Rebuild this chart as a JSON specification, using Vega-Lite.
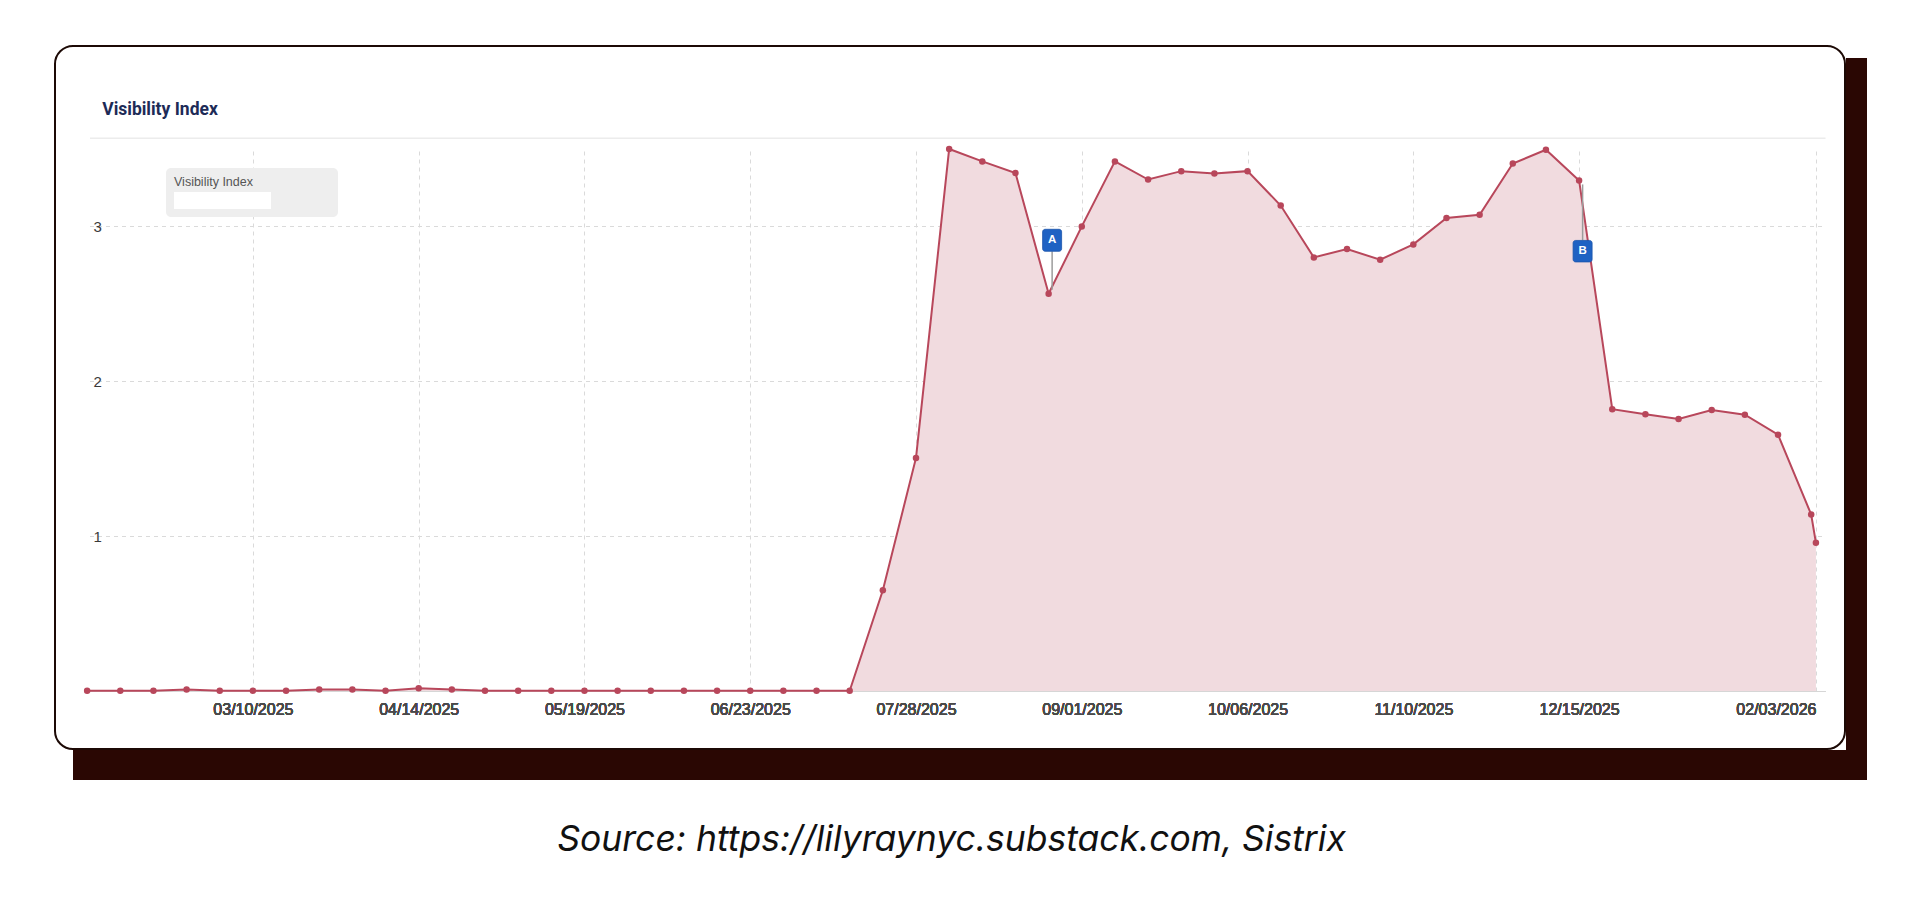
{
  "$schema": "https://vega.github.io/schema/vega-lite/v6.json",
  "background": "white",
  "padding": {"left": 54, "top": 45, "right": 53, "bottom": 40},
  "title": {
    "text": "Source: https://lilyraynyc.substack.com, Sistrix",
    "orient": "bottom",
    "anchor": "middle",
    "frame": "bounds",
    "dx": -9,
    "offset": 43,
    "baseline": "top",
    "font": "Inter",
    "fontStyle": "italic",
    "fontWeight": "normal",
    "fontSize": 35.5,
    "color": "#111111"
  },
  "datasets": {
    "visibility": [
      {"date": "2025-02-03T00:00:00", "value": 0.002, "series": "site"},
      {"date": "2025-02-10T00:00:00", "value": 0.002, "series": "site"},
      {"date": "2025-02-17T00:00:00", "value": 0.002, "series": "site"},
      {"date": "2025-02-24T00:00:00", "value": 0.01, "series": "site"},
      {"date": "2025-03-03T00:00:00", "value": 0.002, "series": "site"},
      {"date": "2025-03-10T00:00:00", "value": 0.002, "series": "site"},
      {"date": "2025-03-17T00:00:00", "value": 0.002, "series": "site"},
      {"date": "2025-03-24T00:00:00", "value": 0.01, "series": "site"},
      {"date": "2025-03-31T00:00:00", "value": 0.01, "series": "site"},
      {"date": "2025-04-07T00:00:00", "value": 0.002, "series": "site"},
      {"date": "2025-04-14T00:00:00", "value": 0.018, "series": "site"},
      {"date": "2025-04-21T00:00:00", "value": 0.01, "series": "site"},
      {"date": "2025-04-28T00:00:00", "value": 0.002, "series": "site"},
      {"date": "2025-05-05T00:00:00", "value": 0.002, "series": "site"},
      {"date": "2025-05-12T00:00:00", "value": 0.002, "series": "site"},
      {"date": "2025-05-19T00:00:00", "value": 0.002, "series": "site"},
      {"date": "2025-05-26T00:00:00", "value": 0.002, "series": "site"},
      {"date": "2025-06-02T00:00:00", "value": 0.002, "series": "site"},
      {"date": "2025-06-09T00:00:00", "value": 0.002, "series": "site"},
      {"date": "2025-06-16T00:00:00", "value": 0.002, "series": "site"},
      {"date": "2025-06-23T00:00:00", "value": 0.002, "series": "site"},
      {"date": "2025-06-30T00:00:00", "value": 0.002, "series": "site"},
      {"date": "2025-07-07T00:00:00", "value": 0.002, "series": "site"},
      {"date": "2025-07-14T00:00:00", "value": 0.002, "series": "site"},
      {"date": "2025-07-21T00:00:00", "value": 0.65, "series": "site"},
      {"date": "2025-07-28T00:00:00", "value": 1.505, "series": "site"},
      {"date": "2025-08-04T00:00:00", "value": 3.5, "series": "site"},
      {"date": "2025-08-11T00:00:00", "value": 3.42, "series": "site"},
      {"date": "2025-08-18T00:00:00", "value": 3.345, "series": "site"},
      {"date": "2025-08-25T00:00:00", "value": 2.565, "series": "site", "flag": "A"},
      {"date": "2025-09-01T00:00:00", "value": 3.0, "series": "site"},
      {"date": "2025-09-08T00:00:00", "value": 3.42, "series": "site"},
      {"date": "2025-09-15T00:00:00", "value": 3.303, "series": "site"},
      {"date": "2025-09-22T00:00:00", "value": 3.357, "series": "site"},
      {"date": "2025-09-29T00:00:00", "value": 3.342, "series": "site"},
      {"date": "2025-10-06T00:00:00", "value": 3.357, "series": "site"},
      {"date": "2025-10-13T00:00:00", "value": 3.135, "series": "site"},
      {"date": "2025-10-20T00:00:00", "value": 2.8, "series": "site"},
      {"date": "2025-10-27T00:00:00", "value": 2.854, "series": "site"},
      {"date": "2025-11-03T00:00:00", "value": 2.785, "series": "site"},
      {"date": "2025-11-10T00:00:00", "value": 2.884, "series": "site"},
      {"date": "2025-11-17T00:00:00", "value": 3.054, "series": "site"},
      {"date": "2025-11-24T00:00:00", "value": 3.075, "series": "site"},
      {"date": "2025-12-01T00:00:00", "value": 3.406, "series": "site"},
      {"date": "2025-12-08T00:00:00", "value": 3.495, "series": "site"},
      {"date": "2025-12-15T00:00:00", "value": 3.297, "series": "site", "flag": "B"},
      {"date": "2025-12-22T00:00:00", "value": 1.82, "series": "site"},
      {"date": "2025-12-29T00:00:00", "value": 1.787, "series": "site"},
      {"date": "2026-01-05T00:00:00", "value": 1.757, "series": "site"},
      {"date": "2026-01-12T00:00:00", "value": 1.815, "series": "site"},
      {"date": "2026-01-19T00:00:00", "value": 1.784, "series": "site"},
      {"date": "2026-01-26T00:00:00", "value": 1.655, "series": "site"},
      {"date": "2026-02-02T00:00:00", "value": 1.14, "series": "site"},
      {"date": "2026-02-03T00:00:00", "value": 0.957, "series": "site"}
    ]
  },
  "columns": 2,
  "spacing": 0,
  "align": "each",
  "concat": [
    {
      "data": {"name": "visibility"},
      "width": 1790,
      "height": 703,
      "view": {"fill": "white", "stroke": "#1c0905", "strokeWidth": 2, "cornerRadius": 18},
      "encoding": {
        "x": {
          "field": "date",
          "type": "temporal",
          "scale": {"domain": [{"year": 2025, "month": 2, "date": 3, "hours": 12}, {"year": 2026, "month": 2, "date": 4, "hours": 22}], "range": [34.5, 1770]},
          "axis": {
            "orient": "bottom",
            "offset": -58,
            "values": [
              {"year": 2025, "month": 3, "date": 10},
              {"year": 2025, "month": 4, "date": 14},
              {"year": 2025, "month": 5, "date": 19},
              {"year": 2025, "month": 6, "date": 23},
              {"year": 2025, "month": 7, "date": 28},
              {"year": 2025, "month": 9, "date": 1},
              {"year": 2025, "month": 10, "date": 6},
              {"year": 2025, "month": 11, "date": 10},
              {"year": 2025, "month": 12, "date": 15},
              {"year": 2026, "month": 2, "date": 3}
            ],
            "format": "%m/%d/%Y",
            "title": null,
            "labelFont": "Liberation Sans",
            "labelFontSize": 16,
            "labelFontWeight": "normal",
            "labelColor": "#4a4a4a",
            "labelPadding": 10,
            "labelOverlap": false,
            "labelBound": false,
            "labelFlush": false,
            "labelAlign": {"condition": {"test": "datum.value > datetime(2026, 0, 1)", "value": "right"}, "value": "center"},
            "ticks": false,
            "domain": true,
            "domainColor": "#d6d6d6",
            "domainWidth": 1,
            "grid": false
          }
        },
        "y": {
          "field": "value",
          "type": "quantitative",
          "scale": {"domain": [0, 3.5], "nice": false, "range": [645, 103]},
          "axis": {
            "offset": -34.5,
            "values": [1, 2, 3],
            "title": null,
            "labelAlign": "left",
            "labelBaseline": "middle",
            "labelPadding": -3.5,
            "tickSize": 0,
            "ticks": false,
            "domain": false,
            "grid": true,
            "gridColor": "#dadada",
            "gridDash": [4, 4],
            "gridWidth": 1,
            "labelFont": "Liberation Sans",
            "labelFontSize": 15,
            "labelFontWeight": "normal",
            "labelColor": "#3a3a3a"
          }
        }
      },
      "layer": [
        {
          "mark": {"type": "area", "color": "#f1dbdf", "opacity": 1},
          "encoding": {
            "x": {
              "field": "date",
              "type": "temporal",
              "scale": {"domain": [{"year": 2025, "month": 2, "date": 3, "hours": 12}, {"year": 2026, "month": 2, "date": 4, "hours": 22}], "range": [34.5, 1770]},
              "axis": {
                "orient": "top",
                "offset": -91.7,
                "values": [
                  {"year": 2025, "month": 3, "date": 10},
                  {"year": 2025, "month": 4, "date": 14},
                  {"year": 2025, "month": 5, "date": 19},
                  {"year": 2025, "month": 6, "date": 23},
                  {"year": 2025, "month": 7, "date": 28},
                  {"year": 2025, "month": 9, "date": 1},
                  {"year": 2025, "month": 10, "date": 6},
                  {"year": 2025, "month": 11, "date": 10},
                  {"year": 2025, "month": 12, "date": 15},
                  {"year": 2026, "month": 2, "date": 3}
                ],
                "labels": false,
                "ticks": false,
                "grid": true,
                "gridColor": "#dadada",
                "gridDash": [4, 4],
                "gridWidth": 1,
                "domain": true,
                "domainColor": "#ececec",
                "domainWidth": 1.5,
                "title": "Visibility Index",
                "titleX": 46.7,
                "titleY": -23,
                "titleAlign": "left",
                "titleAnchor": "start",
                "titleBaseline": "alphabetic",
                "titleFont": "Roboto",
                "titleFontSize": 17.5,
                "titleFontWeight": "bold",
                "titleColor": "#1d2b57"
              }
            }
          }
        },
        {
          "mark": {"type": "line", "strokeWidth": 2},
          "encoding": {
            "color": {
              "field": "series",
              "type": "nominal",
              "scale": {"range": ["#b8475b"]},
              "legend": {
                "title": "Visibility Index",
                "orient": "none",
                "legendX": 111,
                "legendY": 122,
                "fillColor": "#eeeeee",
                "cornerRadius": 5,
                "padding": 8,
                "titleFont": "Liberation Sans",
                "titleFontSize": 12.5,
                "titleFontWeight": "normal",
                "titleColor": "#555555",
                "titlePadding": 6,
                "symbolType": "M-1.2,-1.7H18.2V1.7H-1.2Z",
                "symbolSize": 100,
                "symbolStrokeWidth": 0,
                "labelOpacity": 0,
                "labelOffset": 125,
                "labelFontSize": 12,
                "encode": {"symbols": {"update": {"fill": {"value": "white"}, "stroke": {"value": "white"}, "strokeWidth": {"value": 0}, "opacity": {"value": 1}}}}
              }
            }
          }
        },
        {
          "mark": {"type": "point", "filled": true, "size": 42, "color": "#b8475b", "opacity": 1}
        },
        {
          "transform": [{"filter": "datum.flag === 'A'"}],
          "mark": {"type": "rule", "color": "#9c9c9c", "strokeWidth": 1.5, "xOffset": 3.5, "yOffset": -42.5, "y2Offset": -4},
          "encoding": {"y2": {"field": "value"}}
        },
        {
          "transform": [{"filter": "datum.flag === 'A'"}],
          "mark": {"type": "rect", "color": "#1f62c3", "cornerRadius": 2.5, "stroke": "#1a54ab", "strokeWidth": 0.8, "xOffset": -6, "x2Offset": 13, "yOffset": -64.5, "y2Offset": -42.5},
          "encoding": {"x2": {"field": "date"}, "y2": {"field": "value"}}
        },
        {
          "transform": [{"filter": "datum.flag === 'A'"}],
          "mark": {"type": "text", "color": "white", "font": "Liberation Sans", "fontWeight": "bold", "fontSize": 11.5, "xOffset": 3.5, "yOffset": -53.5, "baseline": "middle", "align": "center"},
          "encoding": {"text": {"field": "flag"}}
        },
        {
          "transform": [{"filter": "datum.flag === 'B'"}],
          "mark": {"type": "rule", "color": "#9c9c9c", "strokeWidth": 1.5, "xOffset": 3.5, "yOffset": 4, "y2Offset": 60},
          "encoding": {"y2": {"field": "value"}}
        },
        {
          "transform": [{"filter": "datum.flag === 'B'"}],
          "mark": {"type": "rect", "color": "#1f62c3", "cornerRadius": 2.5, "stroke": "#1a54ab", "strokeWidth": 0.8, "xOffset": -6, "x2Offset": 13, "yOffset": 60, "y2Offset": 81.5},
          "encoding": {"x2": {"field": "date"}, "y2": {"field": "value"}}
        },
        {
          "transform": [{"filter": "datum.flag === 'B'"}],
          "mark": {"type": "text", "color": "white", "font": "Liberation Sans", "fontWeight": "bold", "fontSize": 11.5, "xOffset": 3.5, "yOffset": 70.8, "baseline": "middle", "align": "center"},
          "encoding": {"text": {"field": "flag"}}
        }
      ]
    },
    {
      "data": {"values": []},
      "width": 21,
      "height": 704,
      "view": {
        "stroke": null,
        "fill": {"gradient": "linear", "x1": 0, "y1": 0, "x2": 0, "y2": 1, "stops": [
          {"offset": 0, "color": "#ffffff"},
          {"offset": 0.0170, "color": "#ffffff"},
          {"offset": 0.0171, "color": "#2a0703"},
          {"offset": 1, "color": "#2a0703"}
        ]}
      },
      "mark": "point",
      "encoding": {}
    },
    {
      "data": {"values": []},
      "width": 1791,
      "height": 30,
      "view": {
        "stroke": null,
        "fill": {"gradient": "linear", "x1": 0, "y1": 0, "x2": 1, "y2": 0, "stops": [
          {"offset": 0, "color": "#ffffff"},
          {"offset": 0.0101, "color": "#ffffff"},
          {"offset": 0.0102, "color": "#2a0703"},
          {"offset": 1, "color": "#2a0703"}
        ]}
      },
      "mark": "point",
      "encoding": {}
    },
    {
      "data": {"values": []},
      "width": 21,
      "height": 30,
      "view": {"stroke": null, "fill": "#2a0703", "cornerRadius": 0},
      "mark": "point",
      "encoding": {}
    }
  ],
  "config": {
    "view": {"stroke": null}
  }
}
